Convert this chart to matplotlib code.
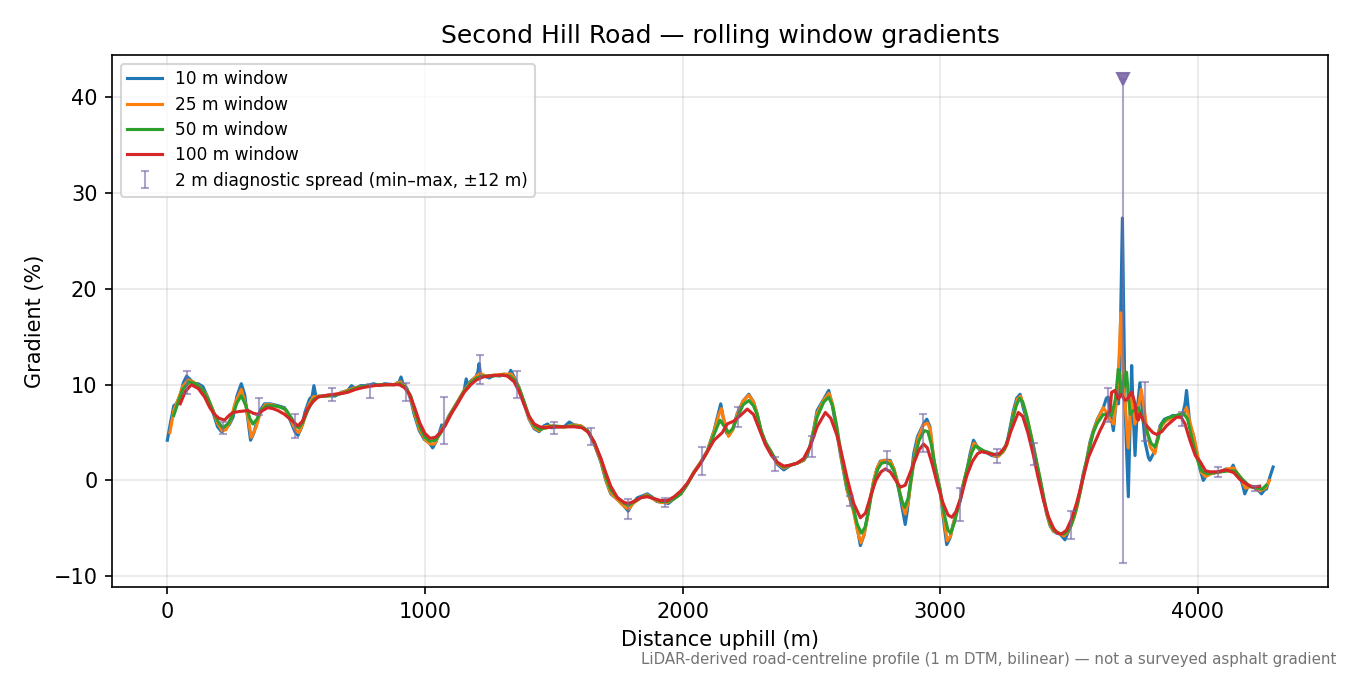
import numpy as np
import matplotlib
matplotlib.use("Agg")
import matplotlib.pyplot as plt

# Rolling-window gradients (distance uphill in m, gradient in %)
d10 = [0, 12, 25, 35, 50, 62, 75, 90, 105, 120,
       138, 155, 175, 195, 210, 225, 240, 255, 270, 287,
       300, 313, 323, 335, 350, 360, 377, 400, 430, 455,
       475, 495, 507, 520, 535, 552, 562, 569, 577, 600,
       625, 650, 675, 700, 715, 730, 750, 778, 800, 825,
       842, 881, 900, 907, 915, 930, 945, 958, 978, 997,
       1017, 1030, 1042, 1055, 1065, 1075, 1090, 1101, 1126, 1152,
       1160, 1168, 1178, 1197, 1205, 1210, 1216, 1230, 1250, 1269,
       1290, 1307, 1325, 1333, 1346, 1365, 1385, 1404, 1424, 1443,
       1462, 1476, 1490, 1515, 1540, 1560, 1579, 1605, 1631, 1657,
       1683, 1702, 1721, 1747, 1773, 1789, 1805, 1825, 1845, 1863,
       1880, 1900, 1925, 1945, 1967, 1993, 2018, 2044, 2070, 2096,
       2122, 2138, 2148, 2158, 2170, 2180, 2195, 2212, 2235, 2257,
       2275, 2289, 2305, 2322, 2341, 2367, 2393, 2419, 2444, 2470,
       2484, 2496, 2510, 2522, 2548, 2567, 2580, 2596, 2612, 2638,
       2664, 2678, 2690, 2703, 2716, 2729, 2742, 2754, 2767, 2780,
       2806, 2820, 2832, 2845, 2857, 2864, 2872, 2884, 2897, 2912,
       2935, 2948, 2960, 2974, 2987, 3000, 3012, 3025, 3038, 3051,
       3064, 3077, 3090, 3103, 3116, 3129, 3142, 3155, 3180, 3200,
       3219, 3240, 3258, 3271, 3284, 3297, 3310, 3322, 3335, 3348,
       3361, 3374, 3387, 3400, 3413, 3426, 3439, 3452, 3465, 3484,
       3495, 3503, 3516, 3529, 3542, 3555, 3568, 3581, 3594, 3610,
       3633, 3645, 3652, 3660, 3672, 3680, 3686, 3692, 3697, 3702,
       3707, 3712, 3717, 3722, 3730, 3736, 3743, 3749, 3756, 3765,
       3775, 3785, 3795, 3808, 3814, 3833, 3853, 3870, 3890, 3904,
       3920, 3940, 3950, 3956, 3963, 3970, 3982, 3995, 4008, 4021,
       4035, 4046, 4065, 4085, 4110, 4125, 4137, 4150, 4165, 4175,
       4182, 4195, 4214, 4230, 4247, 4258, 4266, 4280, 4292]
g10 = [4.2, 6.0, 7.8, 8.0, 8.9, 10.2, 10.9, 10.5, 10.1, 10.1,
       9.8, 8.8, 7.3, 5.6, 5.1, 5.4, 5.8, 6.6, 8.8, 10.1,
       9.0, 6.3, 4.2, 4.9, 6.4, 7.3, 8.0, 8.0, 7.8, 7.6,
       6.4, 5.1, 4.7, 5.5, 7.2, 8.5, 8.8, 9.9, 8.7, 8.8,
       8.9, 8.8, 9.2, 9.4, 9.9, 9.6, 9.9, 9.9, 10.1, 9.9,
       10.1, 10.0, 10.3, 10.8, 10.1, 9.6, 8.4, 6.9, 5.2, 4.3,
       3.9, 3.4, 4.0, 4.9, 5.8, 5.6, 6.6, 7.1, 8.2, 9.4,
       10.6, 9.9, 10.4, 10.8, 11.3, 12.2, 11.0, 10.9, 10.7, 11.0,
       10.9, 11.1, 11.0, 11.5, 10.8, 9.7, 8.0, 6.4, 5.4, 5.1,
       5.7, 5.9, 5.5, 5.6, 5.6, 6.1, 5.8, 5.7, 5.2, 3.8,
       1.9, 0.0, -1.4, -2.0, -2.7, -3.2, -2.4, -1.8, -1.6, -1.4,
       -1.7, -2.2, -2.3, -2.4, -1.9, -1.4, -0.4, 0.9, 1.9, 3.1,
       5.2, 6.9, 8.0, 6.5, 5.0, 4.7, 5.4, 7.0, 8.3, 9.0,
       8.2, 7.0, 5.0, 3.8, 3.1, 1.7, 1.1, 1.6, 1.8, 2.1,
       2.6, 3.8, 5.5, 7.3, 8.5, 9.4, 8.0, 5.5, 2.8, -1.0,
       -3.1, -5.0, -6.8, -5.8, -4.0, -1.8, 0.0, 1.2, 2.0, 2.1,
       2.1, 1.2, 0.0, -1.8, -3.6, -4.6, -3.2, -0.3, 2.8, 4.6,
       5.9, 6.4, 5.6, 2.1, 0.5, -1.0, -4.0, -6.7, -6.0, -4.5,
       -3.2, -2.2, -0.3, 1.0, 2.8, 4.2, 3.6, 3.1, 2.9, 2.6,
       2.5, 3.0, 3.8, 5.5, 7.3, 8.6, 9.0, 7.6, 6.4, 5.0,
       3.5, 1.6, 0.0, -1.8, -3.5, -4.7, -5.3, -5.5, -5.6, -6.2,
       -5.5, -4.9, -4.0, -2.8, -1.2, 0.7, 2.1, 4.0, 5.2, 6.4,
       7.6, 8.6, 8.7, 7.2, 5.2, 7.5, 9.0, 8.0, 12.0, 20.0,
       27.4, 18.0, 8.0, 4.0, -1.7, 5.0, 12.0, 7.0, 2.6, 7.5,
       10.2, 7.0, 4.0, 2.4, 2.1, 3.1, 5.7, 6.4, 6.6, 6.8,
       6.7, 6.8, 8.0, 9.4, 7.5, 5.5, 4.8, 3.0, 1.2, 0.0,
       0.6, 0.7, 0.8, 0.9, 1.2, 1.0, 1.6, 0.6, 0.3, -0.6,
       -1.4, -0.6, -0.7, -0.9, -1.4, -1.0, -0.9, 0.4, 1.4]

d25 = [10, 25, 40, 60, 80, 100, 125, 150, 175, 195,
       212, 228, 245, 262, 287, 305, 326, 345, 362, 380,
       405, 430, 455, 478, 500, 510, 525, 545, 565, 585,
       610, 640, 670, 700, 730, 760, 800, 840, 880, 905,
       925, 945, 960, 980, 1000, 1020, 1037, 1055, 1075, 1100,
       1126, 1152, 1178, 1200, 1215, 1235, 1270, 1307, 1335, 1350,
       1365, 1385, 1404, 1424, 1443, 1465, 1490, 1515, 1545, 1575,
       1605, 1631, 1657, 1683, 1702, 1721, 1747, 1773, 1790, 1808,
       1838, 1863, 1889, 1915, 1941, 1967, 1993, 2018, 2044, 2070,
       2096, 2122, 2140, 2150, 2162, 2178, 2195, 2212, 2235, 2257,
       2275, 2289, 2305, 2322, 2341, 2367, 2393, 2419, 2444, 2470,
       2496, 2522, 2548, 2568, 2582, 2598, 2612, 2638, 2664, 2678,
       2692, 2705, 2718, 2730, 2742, 2756, 2770, 2785, 2806, 2820,
       2832, 2845, 2864, 2876, 2888, 2900, 2915, 2935, 2950, 2962,
       2975, 2988, 3000, 3013, 3027, 3040, 3053, 3066, 3080, 3092,
       3105, 3118, 3131, 3145, 3160, 3185, 3210, 3225, 3245, 3260,
       3273, 3286, 3300, 3312, 3325, 3338, 3350, 3363, 3376, 3389,
       3402, 3415, 3428, 3441, 3460, 3480, 3495, 3505, 3518, 3530,
       3543, 3556, 3568, 3581, 3594, 3610, 3633, 3648, 3660, 3672,
       3682, 3690, 3696, 3701, 3706, 3711, 3717, 3724, 3730, 3737,
       3743, 3750, 3756, 3768, 3780, 3790, 3801, 3815, 3833, 3853,
       3875, 3904, 3930, 3945, 3956, 3970, 3985, 4000, 4015, 4030,
       4050, 4085, 4115, 4140, 4165, 4185, 4210, 4240, 4262, 4278]
g25 = [5.0, 7.3, 8.3, 9.8, 10.5, 10.3, 9.8, 9.0, 7.5, 6.0,
       5.2, 5.3, 6.2, 8.0, 9.5, 7.8, 4.5, 5.6, 7.2, 7.9,
       7.9, 7.7, 7.5, 6.4, 5.2, 5.0, 5.8, 7.6, 8.7, 8.8,
       8.8, 8.9, 9.1, 9.4, 9.7, 9.8, 9.9, 10.0, 10.0, 10.3,
       9.8, 8.6, 7.0, 5.3, 4.3, 3.8, 3.8, 4.8, 5.8, 7.0,
       8.2, 9.4, 10.3, 10.9, 11.2, 10.9, 11.0, 11.1, 11.1, 10.5,
       9.7, 8.1, 6.5, 5.5, 5.2, 5.6, 5.7, 5.6, 5.6, 5.8,
       5.7, 5.2, 3.9, 2.0, 0.1, -1.3, -2.0, -2.7, -3.0, -2.4,
       -1.8, -1.5, -2.0, -2.3, -2.3, -1.9, -1.4, -0.4, 0.9, 1.9,
       3.1, 5.1, 6.8, 7.5, 6.2, 4.6, 5.3, 6.9, 8.3, 8.9,
       8.2, 7.0, 5.1, 3.9, 3.1, 1.8, 1.3, 1.6, 1.8, 2.1,
       3.6, 7.0, 8.4, 9.1, 8.0, 5.5, 3.0, -0.9, -3.3, -5.2,
       -6.5, -5.6, -3.8, -1.8, 0.0, 1.4, 2.0, 2.1, 2.0, 1.2,
       0.1, -1.5, -3.5, -2.2, 0.2, 2.6, 4.5, 5.8, 6.0, 5.3,
       2.2, 0.5, -1.1, -3.8, -6.3, -5.8, -4.3, -3.0, -1.8, -0.1,
       1.2, 2.7, 3.9, 3.5, 3.1, 2.9, 2.6, 2.5, 3.0, 3.8,
       5.4, 7.2, 8.5, 8.8, 7.7, 6.4, 5.0, 3.4, 1.6, -0.1,
       -2.0, -3.6, -4.8, -5.3, -5.5, -5.8, -5.4, -4.9, -4.0, -2.9,
       -1.2, 0.6, 2.0, 3.8, 5.1, 6.3, 7.6, 7.0, 6.3, 5.9,
       8.0, 10.8, 14.0, 17.5, 14.0, 10.0, 8.5, 5.5, 3.4, 7.0,
       9.0, 7.5, 5.9, 7.5, 9.5, 7.8, 5.5, 3.5, 2.8, 5.5,
       6.2, 6.6, 6.9, 7.0, 7.6, 6.0, 4.5, 2.5, 0.8, 0.4,
       0.7, 0.9, 1.2, 1.3, 0.3, -0.8, -0.6, -1.1, -0.8, 0.0]

d50 = [25, 40, 60, 85, 110, 135, 160, 180, 200, 215,
       235, 255, 270, 287, 305, 320, 332, 348, 364, 385,
       410, 435, 460, 480, 500, 510, 525, 545, 565, 590,
       620, 650, 680, 710, 740, 780, 830, 880, 905, 925,
       945, 960, 980, 1000, 1020, 1040, 1060, 1080, 1101, 1126,
       1152, 1178, 1200, 1225, 1260, 1300, 1330, 1350, 1367, 1385,
       1404, 1424, 1445, 1470, 1500, 1540, 1575, 1605, 1631, 1657,
       1683, 1702, 1721, 1747, 1773, 1790, 1808, 1838, 1863, 1889,
       1915, 1941, 1967, 1993, 2018, 2044, 2070, 2096, 2122, 2145,
       2160, 2178, 2195, 2212, 2235, 2257, 2275, 2289, 2305, 2322,
       2341, 2367, 2393, 2419, 2444, 2470, 2496, 2522, 2548, 2567,
       2582, 2598, 2612, 2638, 2664, 2678, 2694, 2708, 2720, 2732,
       2745, 2758, 2772, 2788, 2806, 2820, 2835, 2852, 2862, 2875,
       2888, 2900, 2918, 2938, 2952, 2965, 2978, 2990, 3003, 3016,
       3030, 3040, 3055, 3068, 3082, 3095, 3108, 3122, 3135, 3150,
       3168, 3190, 3212, 3230, 3250, 3265, 3280, 3295, 3308, 3320,
       3335, 3350, 3363, 3376, 3389, 3402, 3415, 3428, 3441, 3460,
       3480, 3495, 3508, 3520, 3532, 3545, 3558, 3570, 3583, 3594,
       3610, 3633, 3650, 3665, 3680, 3691, 3697, 3703, 3710, 3716,
       3723, 3730, 3737, 3750, 3769, 3785, 3801, 3818, 3833, 3845,
       3859, 3880, 3905, 3930, 3945, 3960, 3982, 4000, 4015, 4035,
       4060, 4090, 4120, 4145, 4170, 4200, 4230, 4250, 4265]
g50 = [6.8, 8.0, 9.5, 10.3, 10.1, 9.5, 8.4, 7.1, 6.0, 5.5,
       5.9, 6.9, 8.1, 8.85, 7.8, 6.5, 5.9, 6.4, 7.3, 7.8,
       7.8, 7.7, 7.4, 6.6, 5.7, 5.5, 6.0, 7.3, 8.4, 8.8,
       8.8, 8.9, 9.1, 9.4, 9.7, 9.9, 10.0, 10.0, 10.1, 9.7,
       8.8, 7.3, 5.6, 4.5, 4.1, 4.2, 4.9, 5.9, 7.0, 8.1,
       9.3, 10.2, 10.7, 10.9, 10.9, 11.0, 10.9, 10.4, 9.5, 8.2,
       6.7, 5.7, 5.3, 5.5, 5.7, 5.6, 5.7, 5.6, 5.2, 4.0,
       2.2, 0.4, -1.0, -1.8, -2.4, -2.6, -2.3, -1.8, -1.6, -1.9,
       -2.2, -2.2, -1.9, -1.4, -0.4, 0.8, 1.8, 3.0, 4.8, 6.3,
       5.7, 5.0, 5.4, 6.6, 7.9, 8.35, 7.8, 6.9, 5.2, 4.0,
       3.1, 1.9, 1.4, 1.6, 1.8, 2.2, 3.6, 6.6, 8.2, 8.7,
       7.8, 5.7, 3.3, -0.6, -3.0, -4.6, -5.5, -4.9, -3.4, -1.6,
       0.0, 1.2, 1.8, 1.9, 1.7, 1.0, -0.5, -2.2, -2.8, -1.9,
       0.3, 2.3, 4.2, 5.2, 5.1, 3.8, 1.8, 0.2, -1.6, -3.6,
       -5.2, -5.5, -4.4, -3.0, -1.5, 0.2, 1.6, 2.9, 3.6, 3.4,
       3.1, 2.9, 2.7, 2.7, 3.3, 4.5, 6.3, 7.8, 8.6, 8.2,
       6.8, 5.0, 3.4, 1.7, 0.0, -1.8, -3.4, -4.6, -5.2, -5.5,
       -5.6, -5.3, -4.7, -3.7, -2.5, -1.0, 0.8, 2.3, 3.8, 5.0,
       6.0, 6.9, 6.9, 6.8, 8.5, 11.6, 11.0, 9.0, 9.8, 11.0,
       11.3, 9.0, 6.9, 7.3, 7.6, 6.5, 5.2, 3.9, 3.5, 4.3,
       5.9, 6.5, 6.7, 6.9, 7.0, 6.4, 3.8, 2.0, 1.0, 0.7,
       0.8, 0.9, 1.0, 1.0, 0.2, -0.6, -0.8, -0.9, -0.5]

d100 = [50, 70, 93, 120, 145, 165, 183, 200, 222, 240,
        255, 280, 313, 335, 351, 370, 390, 410, 429, 455,
        481, 507, 525, 545, 565, 584, 620, 649, 680, 700,
        730, 760, 800, 850, 900, 920, 940, 960, 980, 1000,
        1020, 1040, 1060, 1080, 1101, 1126, 1152, 1178, 1200, 1225,
        1260, 1300, 1320, 1346, 1365, 1385, 1404, 1424, 1445, 1470,
        1500, 1540, 1580, 1610, 1635, 1657, 1683, 1702, 1721, 1747,
        1773, 1790, 1810, 1838, 1863, 1889, 1915, 1941, 1967, 1993,
        2018, 2044, 2070, 2096, 2122, 2154, 2173, 2199, 2225, 2251,
        2275, 2300, 2322, 2345, 2367, 2393, 2419, 2444, 2470, 2496,
        2522, 2554, 2575, 2598, 2612, 2638, 2664, 2690, 2710, 2729,
        2750, 2770, 2787, 2806, 2825, 2845, 2864, 2880, 2900, 2918,
        2935, 2950, 2970, 2990, 3010, 3030, 3045, 3060, 3080, 3103,
        3125, 3145, 3160, 3180, 3205, 3230, 3255, 3275, 3303, 3320,
        3340, 3360, 3380, 3400, 3420, 3440, 3455, 3470, 3490, 3510,
        3530, 3555, 3575, 3594, 3620, 3633, 3650, 3659, 3665, 3678,
        3691, 3704, 3715, 3723, 3733, 3743, 3750, 3756, 3763, 3769,
        3775, 3782, 3795, 3808, 3825, 3840, 3860, 3878, 3900, 3917,
        3935, 3950, 3969, 3990, 4008, 4030, 4046, 4075, 4111, 4140,
        4163, 4190, 4214, 4240]
g100 = [8.0, 9.3, 10.0, 9.6, 8.7, 7.6, 6.9, 6.5, 6.3, 6.8,
        7.1, 7.2, 7.3, 7.0, 6.9, 7.3, 7.6, 7.5, 7.3, 6.9,
        6.3, 5.7, 6.2, 7.5, 8.2, 8.7, 8.9, 9.0, 9.1, 9.2,
        9.5, 9.7, 9.9, 10.0, 10.0, 9.7, 9.0, 7.6, 6.0, 4.9,
        4.4, 4.5, 5.0, 5.8, 6.9, 8.0, 9.2, 10.0, 10.5, 10.8,
        10.95, 11.0, 10.9, 10.3, 9.3, 7.9, 6.7, 5.9, 5.6, 5.5,
        5.6, 5.6, 5.6, 5.5, 5.0, 4.0, 2.3, 0.8, -0.6, -1.8,
        -2.3, -2.4, -2.2, -1.8, -1.7, -1.9, -2.1, -2.1, -1.7, -1.1,
        -0.3, 0.8, 1.8, 3.0, 4.2, 5.0, 5.9, 6.2, 6.8, 7.45,
        6.9, 5.2, 3.7, 2.6, 1.9, 1.5, 1.6, 1.8, 2.3, 3.6,
        5.6, 7.1, 6.5, 4.8, 3.4, 0.3, -2.4, -3.9, -3.4, -1.7,
        0.0, 0.9, 1.2, 0.9, 0.1, -0.7, -0.5, 0.6, 2.0, 3.2,
        3.8, 3.4, 1.6, -0.5, -2.3, -3.6, -3.85, -3.3, -1.8, 0.5,
        2.0, 2.8, 3.0, 2.9, 2.7, 2.8, 3.6, 5.2, 7.1, 6.7,
        5.0, 2.8, 0.3, -2.0, -3.8, -5.0, -5.5, -5.6, -5.2, -4.0,
        -2.3, 0.3, 2.4, 3.6, 5.2, 5.9, 7.0, 7.3, 9.2, 9.4,
        8.5, 9.0, 8.4, 8.4, 8.8, 9.2, 8.6, 8.0, 6.5, 6.3,
        7.0, 6.6, 5.9, 5.5, 5.0, 4.8, 5.1, 5.7, 6.2, 6.6,
        6.6, 5.9, 4.2, 2.6, 2.0, 1.0, 0.9, 0.9, 1.1, 0.8,
        0.1, -0.4, -0.7, -0.6]

# 2 m diagnostic spread: min and max of the 2 m gradient within +-12 m
spread_d = [76, 216, 354, 497, 641, 785, 928, 1072, 1214, 1359,
            1501, 1646, 1789, 1931, 2074, 2216, 2360, 2502, 2648, 2793,
            2935, 3078, 3220, 3362, 3507, 3653, 3710, 3795, 3937, 4079,
            4221]
spread_lo = [9.0, 4.8, 6.8, 4.4, 8.3, 8.6, 8.3, 3.8, 10.1, 8.6,
             4.8, 3.75, -4.05, -2.8, 0.6, 5.55, 1.0, 2.5, -2.7, 1.05,
             3.0, -4.25, 1.8, 1.65, -6.15, 6.1, -8.6, 4.15, 5.65, 0.4,
             -1.1]
spread_hi = [11.4, 6.1, 8.6, 6.9, 9.7, 10.1, 10.2, 8.7, 13.1, 11.4,
             6.1, 5.45, -1.9, -1.85, 3.5, 7.7, 2.5, 4.65, -1.6, 3.05,
             6.95, -0.8, 3.25, 3.9, -3.2, 9.65, 41.9, 10.25, 7.1, 1.45,
             -0.6]

series = [
    (d10, g10, "10 m window", "tab:blue"),
    (d25, g25, "25 m window", "tab:orange"),
    (d50, g50, "50 m window", "tab:green"),
    (d100, g100, "100 m window", "tab:red"),
]

fig, ax = plt.subplots(figsize=(9, 4.5), dpi=150)

for d, g, label, color in series:
    ax.plot(d, g, color=color, lw=1.5, label=label)

spread_d = np.array(spread_d)
lo = np.array(spread_lo)
hi = np.array(spread_hi)
mid = (lo + hi) / 2
spread_color = "#7b68a6"
ax.errorbar(spread_d, mid, yerr=[mid - lo, hi - mid], fmt="none",
            ecolor=spread_color, alpha=0.6, elinewidth=1.0, capsize=2,
            label="2 m diagnostic spread (min\u2013max, \u00b112 m)")

# flag the spread that runs far beyond the smoothed curves
big = hi > 30
ax.plot(spread_d[big], hi[big], linestyle="none", marker="v", ms=6,
        color=spread_color, alpha=0.9)

ax.set_title("Second Hill Road \u2014 rolling window gradients", fontsize=12)
ax.set_xlabel("Distance uphill (m)")
ax.set_ylabel("Gradient (%)")
ax.grid(True, alpha=0.3)
ax.legend(loc="upper left", fontsize=8.2, labelspacing=0.43)

fig.text(0.99, 0.012,
         "LiDAR-derived road-centreline profile (1 m DTM, bilinear) \u2014 not a surveyed asphalt gradient",
         ha="right", va="bottom", fontsize=7.2, color="0.45")

fig.subplots_adjust(left=0.083, right=0.984, top=0.9185, bottom=0.1304)
fig.savefig("out.png", dpi=150)
